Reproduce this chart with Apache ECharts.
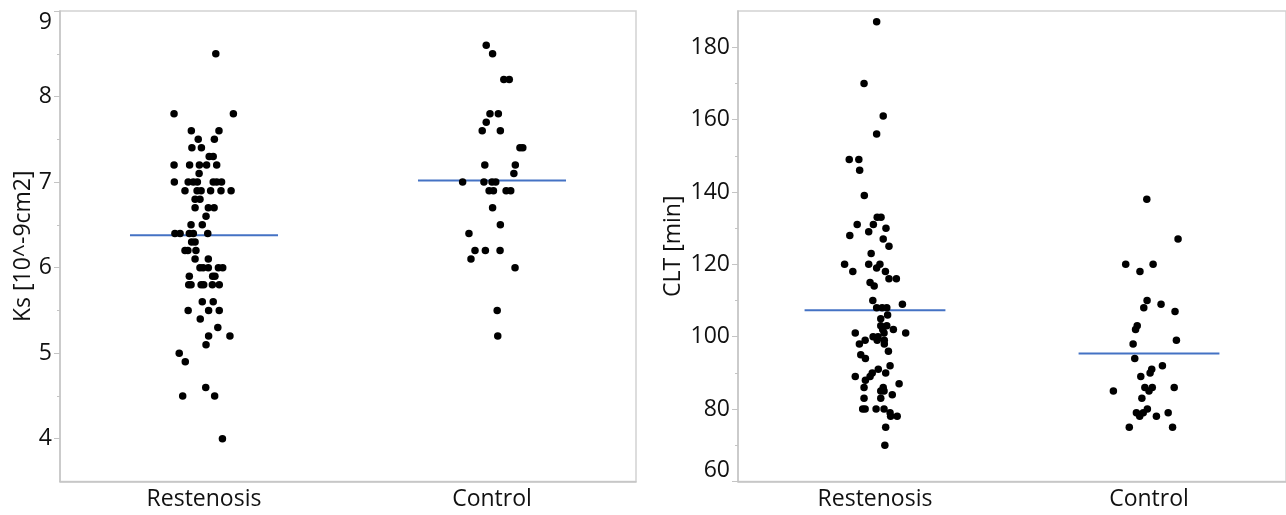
<!DOCTYPE html>
<html>
<head>
<meta charset="utf-8">
<script src="https://cdn.jsdelivr.net/npm/echarts@6/dist/echarts.min.js"></script>
<style>
html,body{margin:0;padding:0;background:#fff;}
#chart{width:1286px;height:515px;}
</style>
</head>
<body>
<div id="chart"></div>
<script>
const categories = ['Restenosis', 'Control'];

// Ks [10^-9cm2]
const ksRestVal = [8.5, 7.8, 7.8, 7.6, 7.6, 7.5, 7.5, 7.4, 7.4, 7.3, 7.3, 7.2, 7.2, 7.2, 7.2, 7.2, 7.1, 7.0, 7.0, 7.0, 7.0, 7.0, 7.0, 7.0, 6.9, 6.9, 6.9, 6.9, 6.9, 6.9, 6.8, 6.8, 6.7, 6.7, 6.7, 6.6, 6.5, 6.5, 6.4, 6.4, 6.4, 6.4, 6.4, 6.3, 6.3, 6.2, 6.2, 6.2, 6.1, 6.1, 6.0, 6.0, 6.0, 6.0, 6.0, 5.9, 5.9, 5.9, 5.8, 5.8, 5.8, 5.8, 5.8, 5.8, 5.6, 5.6, 5.5, 5.5, 5.5, 5.4, 5.3, 5.2, 5.2, 5.1, 5.0, 4.9, 4.6, 4.5, 4.5, 4.0];
const ksRestJit = [0.041, -0.104, 0.102, -0.044, 0.052, -0.020, 0.036, -0.042, -0.009, 0.018, 0.032, -0.104, -0.050, -0.016, 0.009, 0.044, -0.017, -0.103, -0.055, -0.037, -0.023, 0.032, 0.044, 0.061, -0.066, -0.024, -0.010, 0.023, 0.059, 0.094, -0.031, -0.014, -0.031, 0.015, 0.035, 0.007, -0.045, -0.006, -0.101, -0.083, -0.051, -0.037, 0.013, -0.043, -0.031, -0.066, -0.056, -0.028, -0.031, 0.015, -0.014, -0.003, 0.015, 0.050, 0.065, -0.051, 0.030, 0.038, -0.053, -0.045, -0.010, -0.001, 0.029, 0.053, -0.006, 0.032, -0.055, 0.016, 0.053, -0.013, 0.048, 0.016, 0.090, 0.007, -0.086, -0.065, 0.006, -0.074, 0.037, 0.064];
const ksCtrlVal = [8.6, 8.5, 8.2, 8.2, 7.8, 7.8, 7.7, 7.6, 7.6, 7.4, 7.4, 7.2, 7.2, 7.1, 7.0, 7.0, 7.0, 7.0, 6.9, 6.9, 6.9, 6.9, 6.7, 6.5, 6.4, 6.2, 6.2, 6.2, 6.1, 6.0, 5.5, 5.2];
const ksCtrlJit = [-0.020, 0.002, 0.041, 0.060, -0.007, 0.022, -0.020, -0.034, 0.029, 0.097, 0.107, -0.025, 0.081, 0.076, -0.102, -0.028, 0.000, 0.013, -0.010, 0.005, 0.049, 0.065, 0.002, 0.029, -0.080, -0.059, -0.023, 0.028, -0.073, 0.080, 0.018, 0.020];
const ksMeans = [6.38, 7.02];
const ksTicks = [4, 5, 6, 7, 8, 9];
const ksMinorTicks = [4.5, 5.5, 6.5, 7.5, 8.5];

// CLT [min]
const cltRestVal = [187, 170, 161, 156, 149, 149, 146, 139, 133, 133, 131, 131, 130, 129, 128, 127, 125, 123, 120, 120, 120, 119, 118, 118, 116, 116, 115, 114, 110, 109, 108, 108, 108, 106, 105, 103, 103, 102, 102, 101, 101, 101, 100, 100, 99, 99, 99, 98, 98, 96, 95, 94, 92, 91, 90, 90, 89, 89, 88, 87, 86, 86, 85, 85, 84, 83, 83, 80, 80, 80, 80, 79, 78, 78, 75, 70];
const cltRestJit = [0.006, -0.040, 0.030, 0.006, -0.094, -0.059, -0.056, -0.039, 0.008, 0.022, -0.065, -0.006, 0.040, -0.023, -0.092, 0.030, 0.051, -0.014, -0.111, -0.023, 0.018, 0.006, -0.081, 0.038, 0.051, 0.078, -0.018, -0.003, -0.008, 0.100, 0.006, 0.026, 0.043, 0.046, 0.021, 0.021, 0.043, 0.028, 0.067, -0.072, 0.033, 0.112, -0.007, 0.011, -0.036, 0.008, 0.034, -0.057, 0.034, 0.049, -0.052, -0.035, 0.055, 0.012, -0.010, 0.039, -0.072, -0.018, -0.035, 0.088, -0.040, 0.030, 0.021, 0.033, 0.063, -0.040, 0.021, -0.045, -0.036, 0.004, 0.033, 0.055, 0.057, 0.081, 0.039, 0.036];
const cltCtrlVal = [138, 127, 120, 120, 118, 110, 109, 108, 107, 103, 102, 99, 98, 94, 92, 91, 90, 89, 86, 86, 86, 85, 85, 83, 80, 79, 79, 79, 78, 78, 75, 75];
const cltCtrlJit = [-0.008, 0.106, -0.085, 0.015, -0.033, -0.007, 0.044, -0.019, 0.095, -0.043, -0.049, 0.100, -0.058, -0.052, 0.049, 0.010, 0.004, -0.030, -0.015, 0.012, 0.092, -0.130, 0.000, -0.026, -0.006, -0.046, -0.021, 0.070, -0.034, 0.027, -0.072, 0.086];
const cltMeans = [107.3, 95.4];
const cltTicks = [60, 80, 100, 120, 140, 160, 180];
const cltMinorTicks = [70, 90, 110, 130, 150, 170];

const FONT = 'Open Sans';
const TXT = '#111';
const AXC = '#c4c4c4';
const HALF = 0.257;
const FS = 23;

function pts(vals, jit, catIdx) {
  return vals.map((v, i) => [catIdx + 1 + jit[i], v]);
}
function meanLine(m, catIdx) {
  return [[catIdx + 1 - HALF, m], [catIdx + 1 + HALF, m]];
}

function xAxisFor(gi) {
  return {
    type: 'value', gridIndex: gi, min: 0.5, max: 2.5,
    axisLine: {show: true, onZero: false, lineStyle: {color: AXC, width: 1.5}},
    axisTick: {show: false},
    splitLine: {show: false},
    axisLabel: {
      customValues: [1, 2],
      formatter: v => categories[Math.round(v) - 1],
      fontFamily: FONT, fontSize: FS, color: TXT, margin: 6
    }
  };
}
function yMajor(gi, min, max, ticks, name, nameGap, extraLabel) {
  return {
    type: 'value', gridIndex: gi, min: min, max: max, position: 'left',
    name: name, nameLocation: 'middle', nameGap: nameGap, nameRotate: 90,
    nameTextStyle: {fontFamily: FONT, fontSize: FS, color: TXT},
    axisLine: {show: true, onZero: false, lineStyle: {color: AXC, width: 1.5}},
    axisTick: {show: true, customValues: ticks, length: 6, lineStyle: {color: AXC}},
    splitLine: {show: false},
    axisLabel: Object.assign({customValues: ticks, fontFamily: FONT, fontSize: FS, color: TXT, margin: 8}, extraLabel)
  };
}
function yMinor(gi, min, max, ticks) {
  return {
    type: 'value', gridIndex: gi, min: min, max: max, position: 'left', offset: 0,
    axisLine: {show: false, onZero: false},
    axisTick: {show: true, customValues: ticks, length: 3, lineStyle: {color: AXC}},
    splitLine: {show: false},
    axisLabel: {show: false}
  };
}

const chart = echarts.init(document.getElementById('chart'), null, {renderer: 'canvas'});
const dot = {type: 'scatter', symbolSize: 7.5, itemStyle: {color: '#000', opacity: 1}, silent: true, z: 3};
const mline = {type: 'line', symbol: 'none', lineStyle: {color: '#4472c4', width: 2}, silent: true, z: 2};

chart.setOption({
  animation: false,
  backgroundColor: '#fff',
  grid: [
    {left: 60, right: 650, top: 11, bottom: 33.5, show: true, borderColor: '#d2d2d2', borderWidth: 1.5, backgroundColor: '#fff'},
    {left: 738, right: -2, top: 11, bottom: 33.5, show: true, borderColor: '#d2d2d2', borderWidth: 1.5, backgroundColor: '#fff'}
  ],
  xAxis: [xAxisFor(0), xAxisFor(1)],
  yAxis: [
    yMajor(0, 3.5, 9, ksTicks, 'Ks [10^-9cm2]', 25, {verticalAlignMaxLabel: 'top'}),
    yMajor(1, 60, 190, cltTicks, 'CLT [min]', 53, {verticalAlignMinLabel: 'bottom'}),
    yMinor(0, 3.5, 9, ksMinorTicks),
    yMinor(1, 60, 190, cltMinorTicks)
  ],
  series: [
    Object.assign({}, mline, {xAxisIndex: 0, yAxisIndex: 0, data: meanLine(ksMeans[0], 0)}),
    Object.assign({}, mline, {xAxisIndex: 0, yAxisIndex: 0, data: meanLine(ksMeans[1], 1)}),
    Object.assign({}, mline, {xAxisIndex: 1, yAxisIndex: 1, data: meanLine(cltMeans[0], 0)}),
    Object.assign({}, mline, {xAxisIndex: 1, yAxisIndex: 1, data: meanLine(cltMeans[1], 1)}),
    Object.assign({}, dot, {xAxisIndex: 0, yAxisIndex: 0, data: pts(ksRestVal, ksRestJit, 0)}),
    Object.assign({}, dot, {xAxisIndex: 0, yAxisIndex: 0, data: pts(ksCtrlVal, ksCtrlJit, 1)}),
    Object.assign({}, dot, {xAxisIndex: 1, yAxisIndex: 1, data: pts(cltRestVal, cltRestJit, 0)}),
    Object.assign({}, dot, {xAxisIndex: 1, yAxisIndex: 1, data: pts(cltCtrlVal, cltCtrlJit, 1)})
  ]
});
</script>
</body>
</html>
